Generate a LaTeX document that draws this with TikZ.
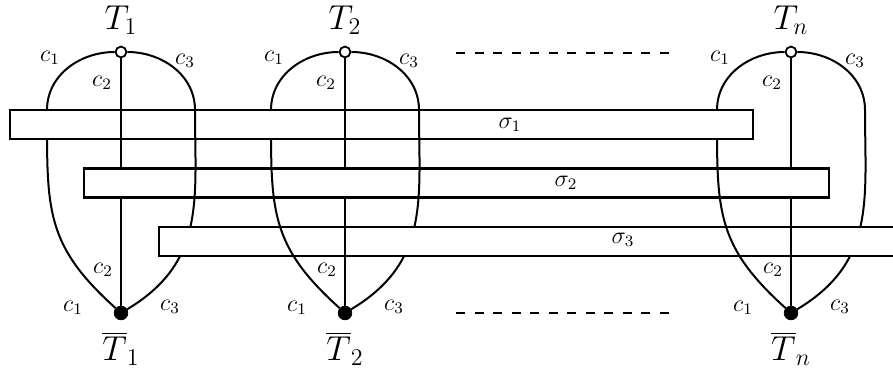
\documentclass[tikz,border=0pt]{standalone}
\begin{document}
\begin{tikzpicture}[x=0.5pt,y=0.5pt,node distance=16pt,every node/.style={inner sep=1pt}]
\tikzstyle{band}=[draw,fill=white,line width=1.1pt,inner sep=0pt,minimum height=14.5pt]
\tikzstyle{wvtx}=[draw,circle,fill=white,line width=0.9pt,inner sep=0pt,minimum size=5.4pt]
\tikzstyle{bvtx}=[draw,circle,fill=black,inner sep=0pt,minimum size=6.8pt]
\tikzstyle{edge}=[draw,line width=1pt]
\tikzstyle{lab}=[font=\large]
\tikzstyle{tlab}=[font=\LARGE]
\tikzstyle{gap}=[draw,line width=1.1pt,dash pattern=on 4.5pt off 4.75pt]
\useasboundingbox (0,0) rectangle (893,369);

% bands
\node[band,minimum width=371.5pt](s1) at (381.5,244.5){};
\node[band,minimum width=372.5pt](s2) at (456.5,186){};
\node[band,minimum width=385.5pt](s3) at (544.5,127.5){};
\node[lab](l1) at (510,244){$\sigma_1$};
\node[lab](l2) at (566,186){$\sigma_2$};
\node[lab](l3) at (623,129){$\sigma_3$};

% vertices
\node[wvtx](t1) at (121,317){};
\node[wvtx](t2) at (345,317){};
\node[wvtx](tn) at (791,317){};
\node[bvtx](b1) at (121,56){};
\node[bvtx](b2) at (345,56){};
\node[bvtx](bn) at (791,56){};

\node[tlab,above of=t1](T1){$T_1$};
\node[tlab,above of=t2](T2){$T_2$};
\node[tlab,above of=tn](Tn){$T_n$};
\node[tlab,node distance=18pt,below of=b1](B1){$\overline{T}_1$};
\node[tlab,node distance=18pt,below of=b2](B2){$\overline{T}_2$};
\node[tlab,node distance=18pt,below of=bn](Bn){$\overline{T}_n$};

\node[lab](c11) at ([shift={(-71,-6)}]t1){$c_1$};
\node[lab](c12) at ([shift={(-19,-31)}]t1){$c_2$};
\node[lab](c13) at ([shift={(64,-9)}]t1){$c_3$};
\node[lab](d12) at ([shift={(-18,43)}]b1){$c_2$};
\node[lab](d11) at ([shift={(-48,5)}]b1){$c_1$};
\node[lab](d13) at ([shift={(49,6)}]b1){$c_3$};

\node[lab](c21) at ([shift={(-71,-6)}]t2){$c_1$};
\node[lab](c22) at ([shift={(-19,-31)}]t2){$c_2$};
\node[lab](c23) at ([shift={(64,-9)}]t2){$c_3$};
\node[lab](d22) at ([shift={(-18,43)}]b2){$c_2$};
\node[lab](d21) at ([shift={(-48,5)}]b2){$c_1$};
\node[lab](d23) at ([shift={(49,6)}]b2){$c_3$};

\node[lab](cn1) at ([shift={(-71,-6)}]tn){$c_1$};
\node[lab](cn2) at ([shift={(-19,-31)}]tn){$c_2$};
\node[lab](cn3) at ([shift={(64,-9)}]tn){$c_3$};
\node[lab](dn2) at ([shift={(-18,43)}]bn){$c_2$};
\node[lab](dn1) at ([shift={(-48,5)}]bn){$c_1$};
\node[lab](dn3) at ([shift={(49,6)}]bn){$c_3$};

% c1 edges, hidden inside s1
\begin{scope}
\clip (-20,-20) -- (950,-20) -- (950,400) -- (-20,400) -- cycle
  (s1.north west) -- (s1.north east) -- (s1.south east) -- (s1.south west) -- cycle;
\path[edge](t1) to[out=180,in=90] ++(-74,-58) to[out=-90,in=138,out distance=50pt,in distance=47.5pt] (b1);
\path[edge](t2) to[out=180,in=90] ++(-74,-58) to[out=-90,in=138,out distance=50pt,in distance=47.5pt] (b2);
\path[edge](tn) to[out=180,in=90] ++(-74,-58) to[out=-90,in=138,out distance=50pt,in distance=47.5pt] (bn);
\end{scope}

% c2 edges, hidden inside s2
\begin{scope}
\clip (-20,-20) -- (950,-20) -- (950,400) -- (-20,400) -- cycle
  (s2.north west) -- (s2.north east) -- (s2.south east) -- (s2.south west) -- cycle;
\path[edge](t1)--(b1);
\path[edge](t2)--(b2);
\path[edge](tn)--(bn);
\end{scope}

% c3 edges, hidden inside s3
\begin{scope}
\clip (-20,-20) -- (950,-20) -- (950,400) -- (-20,400) -- cycle
  (s3.north west) -- (s3.north east) -- (s3.south east) -- (s3.south west) -- cycle;
\path[edge](t1) to[out=0,in=90] ++(74,-58) to[out=-90,in=31,out distance=45pt,in distance=46pt] (b1);
\path[edge](t2) to[out=0,in=90] ++(74,-58) to[out=-90,in=31,out distance=45pt,in distance=46pt] (b2);
\path[edge](tn) to[out=0,in=90] ++(74,-58) to[out=-90,in=31,out distance=45pt,in distance=46pt] (bn);
\end{scope}

\coordinate (g1) at (456,316);
\coordinate (g2) at (671,316);
\coordinate (g3) at (456,56);
\coordinate (g4) at (671,56);
\path[gap](g1)--(g2);
\path[gap](g3)--(g4);
\end{tikzpicture}
\end{document}
